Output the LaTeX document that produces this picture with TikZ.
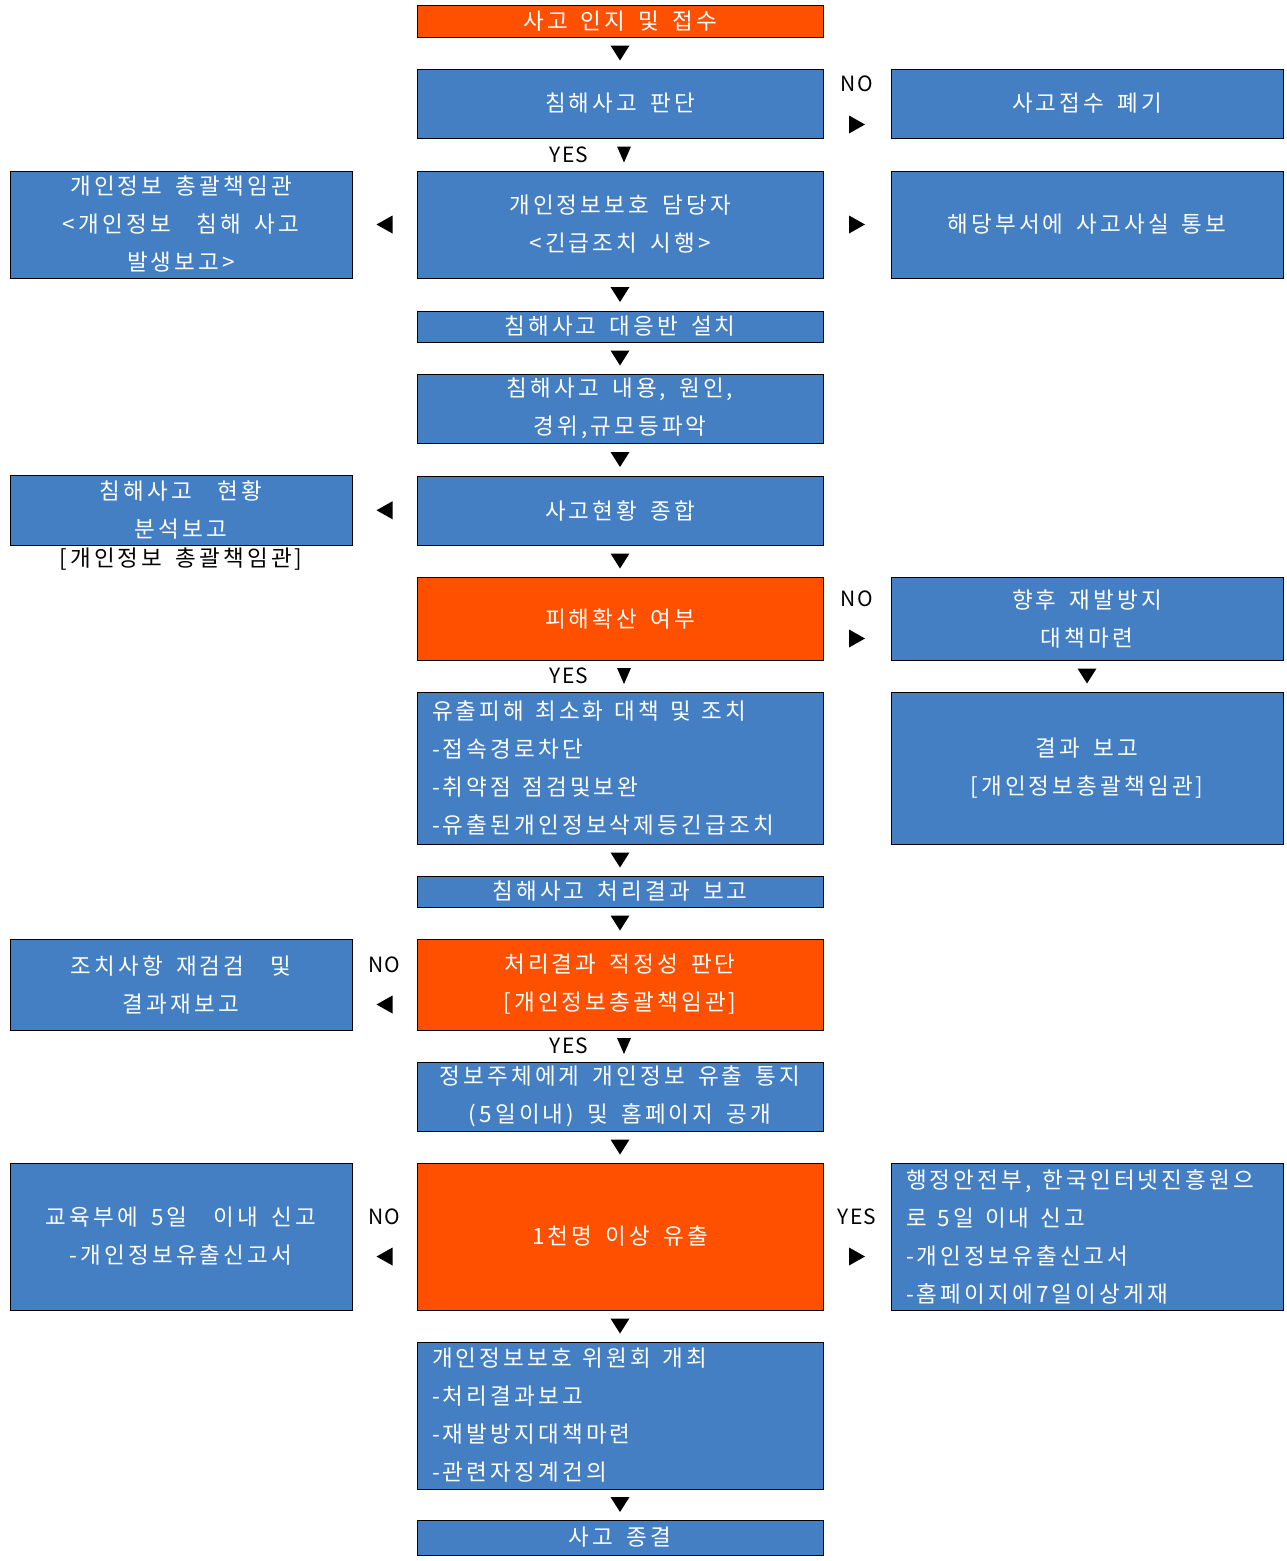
\documentclass[tikz,border=0pt]{standalone}
\usepackage{fontspec}
\setmainfont{Noto Sans CJK KR}[LetterSpace=14,WordSpace={1.6,1,0.2}]
\usetikzlibrary{calc}

\definecolor{boxblue}{RGB}{67,127,194}
\definecolor{boxorange}{RGB}{255,80,0}

\tikzset{
	stepbox/.style={draw=black,line width=1pt,fill=boxblue,text=white,inner sep=0pt,
		align=center,font=\fontsize{22.5}{38}\selectfont},
	hot/.style={stepbox,fill=boxorange},
	mid/.style={minimum width=406pt},
	side/.style={minimum width=392pt},
	left col/.style={minimum width=342pt},
	listbox/.style={align=left,text width=#1,
		execute at begin node={\spaceskip=11pt plus 2pt minus 1pt\relax}},
	lbl/.style={inner sep=0pt,font=\fontsize{21}{25}\selectfont\addfontfeature{LetterSpace=6}},
	tridown/.pic={\fill (-9.5,-7.5) -- (9.5,-7.5) -- (0,7.5) -- cycle;},
	triyes/.pic={\fill (-7,-8) -- (7,-8) -- (0,8) -- cycle;},
	triright/.pic={\fill (-8,-9) -- (-8,9) -- (8,0) -- cycle;},
	trileft/.pic={\fill (8,-9) -- (8,9) -- (-8,0) -- cycle;}
}

\begin{document}
\begin{tikzpicture}[x=1pt,y=-1pt]
\useasboundingbox (0,0) rectangle (1287,1561);
%\draw[help lines,step=50] (0,0) grid (1287,1561);

	% main column
	\node[hot,mid,minimum height=32pt] (start) at (620,21) {사고 인지 및 접수};
	\node[stepbox,mid,minimum height=69pt] (judge) at (620,103.5) {침해사고 판단};
	\node[stepbox,mid,minimum height=107pt] (officer) at (620,224.5) {개인정보보호 담당자\\<긴급조치 시행>};
	\node[stepbox,mid,minimum height=31pt] (team) at (620,326.5) {침해사고 대응반 설치};
	\node[stepbox,mid,minimum height=69pt] (grasp) at (620,408.5) {침해사고 내용, 원인,\\경위,규모등파악};
	\node[stepbox,mid,minimum height=69pt] (summary) at (620,510.5) {사고현황 종합};
	\node[hot,mid,minimum height=83pt] (spread) at (620,618.5) {피해확산 여부};
	\node[stepbox,mid,minimum height=152pt,listbox=376pt] (minimize) at (620,768)
		{유출피해 최소화 대책 및 조치\\-접속경로차단\\-취약점 점검및보완\\-유출된개인정보삭제등긴급조치};
	\node[stepbox,mid,minimum height=31pt] (report) at (620,891.5) {침해사고 처리결과 보고};
	\node[hot,mid,minimum height=91pt] (adequacy) at (620,984.5) {처리결과 적정성 판단\\{[}개인정보총괄책임관{]}};
	\node[stepbox,mid,minimum height=69pt] (inform) at (620,1096.5) {정보주체에게 개인정보 유출 통지\\(5일이내) 및 홈페이지 공개};
	\node[hot,mid,minimum height=147pt] (leak) at (620,1236.5) {1천명 이상 유출};
	\node[stepbox,mid,minimum height=147pt,listbox=376pt] (committee) at (620,1415.5)
		{개인정보보호 위원회 개최\\-처리결과보고\\-재발방지대책마련\\-관련자징계건의};
	\node[stepbox,mid,minimum height=35pt] (close) at (620,1537.5) {사고 종결};

	% right column
	\node[stepbox,side,minimum height=69pt] (discard) at (1087,103.5) {사고접수 폐기};
	\node[stepbox,side,minimum height=107pt] (notify) at (1087,224.5) {해당부서에 사고사실 통보};
	\node[stepbox,side,minimum height=83pt] (prevent) at (1087,618.5) {향후 재발방지\\대책마련};
	\node[stepbox,side,minimum height=152pt] (result) at (1087,768) {결과 보고\\{[}개인정보총괄책임관{]}};
	\node[stepbox,side,minimum height=147pt,listbox=362pt] (mois) at (1087,1236.5)
		{행정안전부, 한국인터넷진흥원으\\로 5일 이내 신고\\-개인정보유출신고서\\-홈페이지에7일이상게재};

	% left column
	\node[stepbox,left col,minimum height=107pt] (chief) at (181,224.5) {개인정보 총괄책임관\\<개인정보\ \ 침해 사고\\발생보고>};
	\node[stepbox,left col,minimum height=70pt] (analysis) at (181,510) {침해사고\ \ 현황\\분석보고};
	\node[stepbox,draw=none,fill=none,text=black] (analysis label) at (181,559) {{[}개인정보 총괄책임관{]}};
	\node[stepbox,left col,minimum height=91pt] (recheck) at (181,984.5) {조치사항 재검검\ \ 및\\결과재보고};
	\node[stepbox,left col,minimum height=147pt] (moe) at (181,1236.5) {교육부에 5일\ \ 이내 신고\\-개인정보유출신고서};

	% down marks
	\pic at ($(start.south)!0.5!(judge.north)$) {tridown};
	\pic at ($(officer.south)!0.5!(team.north)$) {tridown};
	\pic at ($(team.south)!0.5!(grasp.north)$) {tridown};
	\pic at ($(grasp.south)!0.5!(summary.north)$) {tridown};
	\pic at ($(summary.south)!0.5!(spread.north)$) {tridown};
	\pic at ($(minimize.south)!0.5!(report.north)$) {tridown};
	\pic at ($(report.south)!0.5!(adequacy.north)$) {tridown};
	\pic at ($(inform.south)!0.5!(leak.north)$) {tridown};
	\pic at ($(leak.south)!0.5!(committee.north)$) {tridown};
	\pic at ($(committee.south)!0.5!(close.north)$) {tridown};
	\pic at ($(prevent.south)!0.5!(result.north)$) {tridown};

	% YES marks
	\pic at ($(judge.south)!0.5!(officer.north)+(4,0)$) {triyes};
	\node[lbl] (yes1) at ($(judge.south)!0.5!(officer.north)+(-51,0)$) {YES};
	\pic at ($(spread.south)!0.5!(minimize.north)+(4,0)$) {triyes};
	\node[lbl] (yes2) at ($(spread.south)!0.5!(minimize.north)+(-51,0)$) {YES};
	\pic at ($(adequacy.south)!0.5!(inform.north)+(4,0)$) {triyes};
	\node[lbl] (yes3) at ($(adequacy.south)!0.5!(inform.north)+(-51,0)$) {YES};

	% side marks
	\node[lbl] (no1) at ($(judge.east)!0.5!(discard.west)+(0,-20)$) {NO};
	\pic at ($(judge.east)!0.5!(discard.west)+(0,21)$) {triright};
	\pic at ($(officer.east)!0.5!(notify.west)$) {triright};
	\pic at ($(chief.east)!0.5!(officer.west)$) {trileft};
	\pic at ($(analysis.east)!0.5!(summary.west)$) {trileft};
	\node[lbl] (no2) at ($(spread.east)!0.5!(prevent.west)+(0,-20)$) {NO};
	\pic at ($(spread.east)!0.5!(prevent.west)+(0,20)$) {triright};
	\node[lbl] (no3) at ($(recheck.east)!0.5!(adequacy.west)+(0,-20)$) {NO};
	\pic at ($(recheck.east)!0.5!(adequacy.west)+(0,20)$) {trileft};
	\node[lbl] (no4) at ($(moe.east)!0.5!(leak.west)+(0,-20)$) {NO};
	\pic at ($(moe.east)!0.5!(leak.west)+(0,20)$) {trileft};
	\node[lbl] (yes4) at ($(leak.east)!0.5!(mois.west)+(0,-20)$) {YES};
	\pic at ($(leak.east)!0.5!(mois.west)+(0,20)$) {triright};
\end{tikzpicture}
\end{document}
